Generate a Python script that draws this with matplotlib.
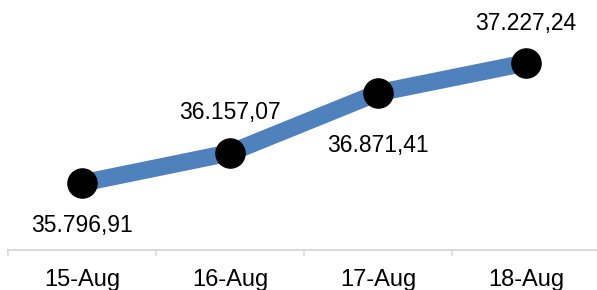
import matplotlib
matplotlib.use("Agg")
import matplotlib.pyplot as plt

categories = ["15-Aug", "16-Aug", "17-Aug", "18-Aug"]
values = [35796.91, 36157.07, 36871.41, 37227.24]
value_labels = ["35.796,91", "36.157,07", "36.871,41", "37.227,24"]
label_offsets_px = [-42, 40, -53, 39]

plt.rcParams['font.family'] = ['Liberation Sans', 'DejaVu Sans']

fig = plt.figure(figsize=(5.97, 2.90), dpi=100)
ax = fig.add_axes([8/597, 40/290, 592/597, 252/290])

x = list(range(len(categories)))
ax.plot(x, values, color="#4F81BD", linewidth=12.5, solid_capstyle="butt",
        solid_joinstyle="round", zorder=2)
ax.plot(x, values, linestyle="none", marker="o", markersize=21,
        markerfacecolor="black", markeredgecolor="black", zorder=3)

for xi, v, lab, off in zip(x, values, value_labels, label_offsets_px):
    ax.annotate(lab, (xi, v), xytext=(0, off), textcoords="offset pixels",
                ha="center", va="center", fontsize=16.5, color="black")

ax.set_xlim(-0.5, len(categories) - 0.5)
ax.set_ylim(35000, 38000)

ax.set_xticks(x)
ax.set_xticklabels(categories, fontsize=17)
ax.set_xticks([i - 0.5 for i in range(len(categories) + 1)], minor=True)
ax.tick_params(axis="x", which="major", length=0, pad=14)
ax.tick_params(axis="x", which="minor", length=4.3, width=1.2, color="#d9d9d9", direction="out")
ax.set_yticks([])

for s in ["top", "right", "left"]:
    ax.spines[s].set_visible(False)
ax.spines["bottom"].set_color("#d9d9d9")
ax.spines["bottom"].set_linewidth(1.5)

fig.savefig("out.png", dpi=100)
